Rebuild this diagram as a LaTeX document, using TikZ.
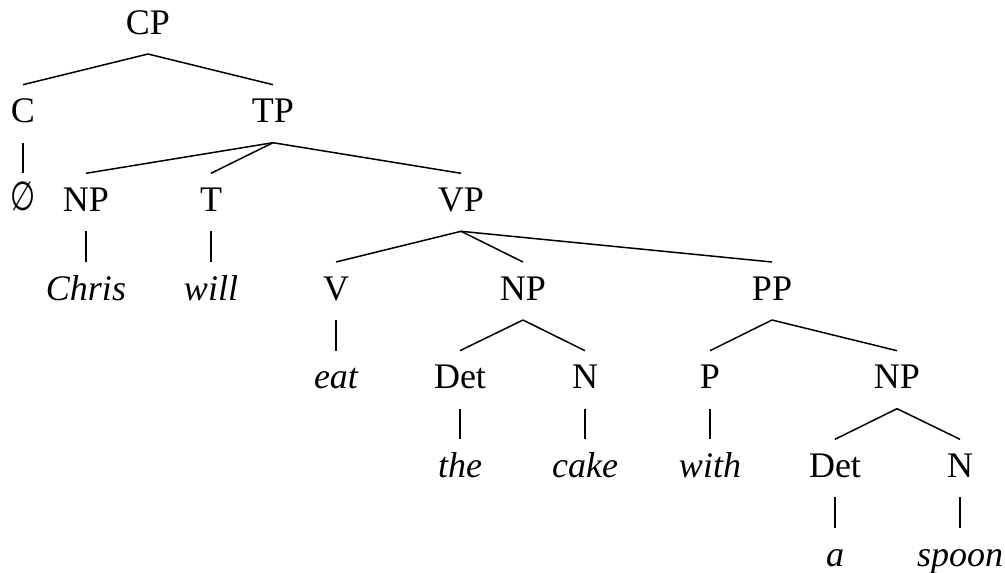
\documentclass[tikz,border=0pt]{standalone}
\usepackage{fontspec}
\setmainfont{Liberation Serif}
\newfontfamily\symfont{DejaVu Sans}
\newcommand\tbranch[2]{\draw[branch] ([yshift=-20pt]#1.base) -- ([yshift=38pt]#2.base);}
\begin{document}
\begin{tikzpicture}[x=1pt,y=-1pt,
  every node/.style={anchor=base, inner sep=0pt, font=\fontsize{36}{40}\selectfont},
  lex/.style={font=\fontsize{36}{40}\selectfont\itshape},
  branch/.style={line width=1.5pt, line cap=butt}]
\useasboundingbox (0,0) rectangle (1005,573);
% row 1
\node (cp) at (148,34) {CP};
% row 2
\node (c) at (23,122.7) {C};
\node (tp) at (273,122.7) {TP};
% row 3
\node (empty) at (23,211.3) {\raisebox{1pt}{\scalebox{0.8}[1.12]{\symfont ∅}}};
\node (np1) at (86,211.3) {NP};
\node (t) at (211,211.3) {T};
\node (vp) at (461,211.3) {VP};
% row 4
\node[lex] (chris) at (86,300) {Chris};
\node[lex] (will) at (211,300) {will};
\node (v) at (336,300) {V};
\node (np2) at (523,300) {NP};
\node (pp) at (772,300) {PP};
% row 5
\node[lex] (eat) at (336,388.7) {eat};
\node (det1) at (460,388.7) {Det};
\node (n1) at (585,388.7) {N};
\node (p) at (710,388.7) {P};
\node (np3) at (897,388.7) {NP};
% row 6
\node[lex] (the) at (460,477.3) {the};
\node[lex] (cake) at (585,477.3) {cake};
\node[lex] (with) at (710,477.3) {with};
\node (det2) at (835,477.3) {Det};
\node (n2) at (960,477.3) {N};
% row 7
\node[lex] (a) at (835,566) {a};
\node[lex] (spoon) at (960,566) {spoon};
% branches
\tbranch{cp}{c}
\tbranch{cp}{tp}
\tbranch{c}{empty}
\tbranch{tp}{np1}
\tbranch{tp}{t}
\tbranch{tp}{vp}
\tbranch{np1}{chris}
\tbranch{t}{will}
\tbranch{vp}{v}
\tbranch{vp}{np2}
\tbranch{vp}{pp}
\tbranch{v}{eat}
\tbranch{np2}{det1}
\tbranch{np2}{n1}
\tbranch{pp}{p}
\tbranch{pp}{np3}
\tbranch{det1}{the}
\tbranch{n1}{cake}
\tbranch{p}{with}
\tbranch{np3}{det2}
\tbranch{np3}{n2}
\tbranch{det2}{a}
\tbranch{n2}{spoon}
\end{tikzpicture}
\end{document}
